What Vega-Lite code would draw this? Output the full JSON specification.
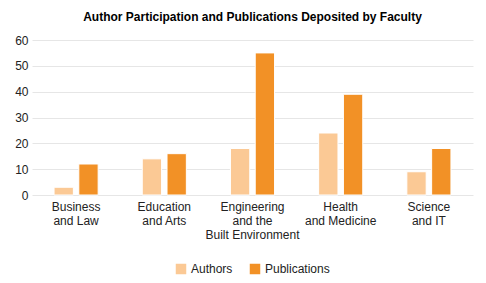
{
  "$schema": "https://vega.github.io/schema/vega-lite/v6.json",
  "width": 486,
  "height": 283,
  "autosize": {"type": "fit", "contains": "padding"},
  "padding": {"left": 14, "top": 11, "right": 13, "bottom": 8},
  "background": "white",
  "title": {
    "text": "Author Participation and Publications Deposited by Faculty",
    "font": "Liberation Sans",
    "fontSize": 12,
    "fontWeight": "bold",
    "color": "#000000",
    "anchor": "middle",
    "offset": 10
  },
  "data": {
    "values": [
      {"faculty": "Business|and Law", "series": "Authors", "value": 3},
      {"faculty": "Business|and Law", "series": "Publications", "value": 12},
      {"faculty": "Education|and Arts", "series": "Authors", "value": 14},
      {"faculty": "Education|and Arts", "series": "Publications", "value": 16},
      {"faculty": "Engineering|and the|Built Environment", "series": "Authors", "value": 18},
      {"faculty": "Engineering|and the|Built Environment", "series": "Publications", "value": 55},
      {"faculty": "Health|and Medicine", "series": "Authors", "value": 24},
      {"faculty": "Health|and Medicine", "series": "Publications", "value": 39},
      {"faculty": "Science|and IT", "series": "Authors", "value": 9},
      {"faculty": "Science|and IT", "series": "Publications", "value": 18}
    ]
  },
  "mark": {"type": "bar", "stroke": "white", "strokeWidth": 1},
  "encoding": {
    "x": {
      "field": "faculty",
      "type": "nominal",
      "sort": null,
      "scale": {"paddingInner": 0.5, "paddingOuter": 0.25},
      "axis": {
        "title": null,
        "labelAngle": 0,
        "labelExpr": "split(datum.label, '|')",
        "labelFont": "Liberation Sans",
        "labelFontSize": 12,
        "labelColor": "#222222",
        "labelLineHeight": 14,
        "domain": false,
        "ticks": false,
        "labelPadding": 6
      }
    },
    "xOffset": {
      "field": "series",
      "type": "nominal",
      "scale": {"paddingInner": 0.22}
    },
    "y": {
      "field": "value",
      "type": "quantitative",
      "scale": {"domain": [0, 60]},
      "axis": {
        "title": null,
        "values": [0, 10, 20, 30, 40, 50, 60],
        "labelFont": "Liberation Sans",
        "labelFontSize": 12,
        "labelColor": "#222222",
        "domain": false,
        "ticks": false,
        "gridColor": "#e6e6e6",
        "gridWidth": 1,
        "labelPadding": 4
      }
    },
    "color": {
      "field": "series",
      "type": "nominal",
      "scale": {"domain": ["Authors", "Publications"], "range": ["#fbc995", "#f29126"]},
      "legend": {
        "title": null,
        "orient": "bottom",
        "direction": "horizontal",
        "symbolType": "square",
        "symbolSize": 110,
        "symbolStrokeWidth": 0,
        "labelFont": "Liberation Sans",
        "labelFontSize": 12,
        "labelColor": "#222222",
        "columnPadding": 16,
        "offset": 23
      }
    }
  },
  "config": {
    "view": {"stroke": null},
    "legend": {"layout": {"bottom": {"anchor": "middle"}}}
  }
}
